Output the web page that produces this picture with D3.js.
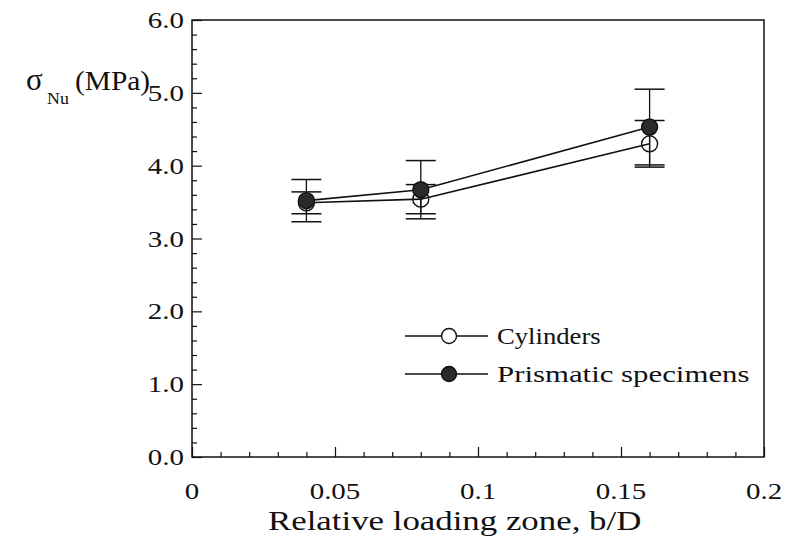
<!DOCTYPE html>
<html><head><meta charset="utf-8">
<script src="https://cdn.jsdelivr.net/npm/d3@7/dist/d3.min.js"></script>
<style>body{margin:0;background:#fff}svg{display:block}text{font-family:"Liberation Serif","Times New Roman",serif;fill:#111}</style>
</head><body>
<script>
// ---- data ----
const xValues = [0.04, 0.08, 0.16];
const cylMean = [3.49, 3.54, 4.30];
const cylErr  = [0.15, 0.20, 0.32];
const prisMean = [3.52, 3.67, 4.53];
const prisErr  = [0.29, 0.40, 0.52];
const seriesNames = ["Cylinders", "Prismatic specimens"];
const xTickValues = [0, 0.05, 0.1, 0.15, 0.2];
const xTickLabels = ["0", "0.05", "0.1", "0.15", "0.2"];
const yTickValues = [0, 1, 2, 3, 4, 5, 6];
const yTickLabels = ["0.0", "1.0", "2.0", "3.0", "4.0", "5.0", "6.0"];
const xTitle = "Relative loading zone, b/D";

// ---- layout ----
const W = 788, H = 543;
const L = 192, R = 764, T = 20, B = 457;
const ink = "#111";

const svg = d3.select("body").append("svg").attr("width", W).attr("height", H);
const x = d3.scaleLinear().domain([0, 0.2]).range([L, R]);
const y = d3.scaleLinear().domain([0, 6]).range([B, T]);

function txt(px, py, s, size, anchor, sx) {
  return svg.append("text")
    .attr("transform", `translate(${px},${py}) scale(${sx},1)`)
    .attr("text-anchor", anchor || "start")
    .style("font-size", size + "px")
    .text(s);
}

// ---- axes (inward ticks) ----
const xMinor = d3.range(0, 0.2001, 0.01).filter(v => Math.abs(v / 0.05 - Math.round(v / 0.05)) > 1e-6);
const yMinor = d3.range(0, 6.001, 0.2).filter(v => Math.abs(v - Math.round(v)) > 1e-6);

function styleAxis(g) {
  g.select(".domain").remove();
  g.selectAll("line").attr("stroke", ink).attr("stroke-width", 1.2);
  g.selectAll("text").remove();
}
svg.append("g").attr("transform", `translate(0,${B})`)
  .call(d3.axisBottom(x).tickValues(xTickValues).tickSize(-10).tickFormat("")).call(styleAxis);
svg.append("g").attr("transform", `translate(0,${B})`)
  .call(d3.axisBottom(x).tickValues(xMinor).tickSize(-5).tickFormat("")).call(styleAxis);
svg.append("g").attr("transform", `translate(${L},0)`)
  .call(d3.axisLeft(y).tickValues(yTickValues).tickSize(-10).tickFormat("")).call(styleAxis);
svg.append("g").attr("transform", `translate(${L},0)`)
  .call(d3.axisLeft(y).tickValues(yMinor).tickSize(-5).tickFormat("")).call(styleAxis);

svg.append("rect").attr("x", L).attr("y", T).attr("width", R - L).attr("height", B - T)
  .attr("fill", "none").attr("stroke", ink).attr("stroke-width", 1.5);

// tick labels
xTickValues.forEach((v, i) => txt(x(v), 499, xTickLabels[i], 23, "middle", 1.26));
yTickValues.forEach((v, i) => txt(184, y(v) + 8, yTickLabels[i], 23, "end", 1.26));

// titles
txt(268, 530, xTitle, 27, "start", 1.29);
txt(26, 90, "σ", 31, "start", 1.0);
txt(47, 104, "Nu", 17, "start", 1.05);
txt(75, 90, "(MPa)", 28, "start", 1.05);

// ---- series ----
const series = [
  {mean: cylMean, err: cylErr, filled: false},
  {mean: prisMean, err: prisErr, filled: true}
];
const capHalf = 15;
series.forEach(s => {
  const g = svg.append("g");
  xValues.forEach((xv, i) => {
    const lo = s.mean[i] - s.err[i], hi = s.mean[i] + s.err[i];
    g.append("line").attr("x1", x(xv)).attr("x2", x(xv)).attr("y1", y(lo)).attr("y2", y(hi))
      .attr("stroke", ink).attr("stroke-width", 1.3);
    [lo, hi].forEach(v => g.append("line").attr("x1", x(xv) - capHalf).attr("x2", x(xv) + capHalf)
      .attr("y1", y(v)).attr("y2", y(v)).attr("stroke", ink).attr("stroke-width", 1.5));
  });
});
const line = d3.line().x(d => x(d[0])).y(d => y(d[1]));
series.forEach(s => {
  svg.append("path").attr("d", line(xValues.map((v, i) => [v, s.mean[i]])))
    .attr("fill", "none").attr("stroke", ink).attr("stroke-width", 1.6);
});
series.forEach(s => {
  svg.append("g").selectAll("circle").data(xValues).join("circle")
    .attr("cx", d => x(d)).attr("cy", (d, i) => y(s.mean[i])).attr("r", 8)
    .attr("fill", s.filled ? "#2a2a2a" : "none")
    .attr("stroke", ink).attr("stroke-width", 1.4);
});

// ---- legend ----
const legY = [336, 374];
const legSX = [1.16, 1.34];
series.forEach((s, i) => {
  svg.append("line").attr("x1", 405).attr("x2", 488).attr("y1", legY[i]).attr("y2", legY[i])
    .attr("stroke", ink).attr("stroke-width", 1.3);
  svg.append("circle").attr("cx", 449).attr("cy", legY[i]).attr("r", 7.5)
    .attr("fill", s.filled ? "#2a2a2a" : "#fff").attr("stroke", ink).attr("stroke-width", 1.4);
  txt(497, legY[i] + 8, seriesNames[i], 23, "start", legSX[i]);
});
</script>
</body></html>
